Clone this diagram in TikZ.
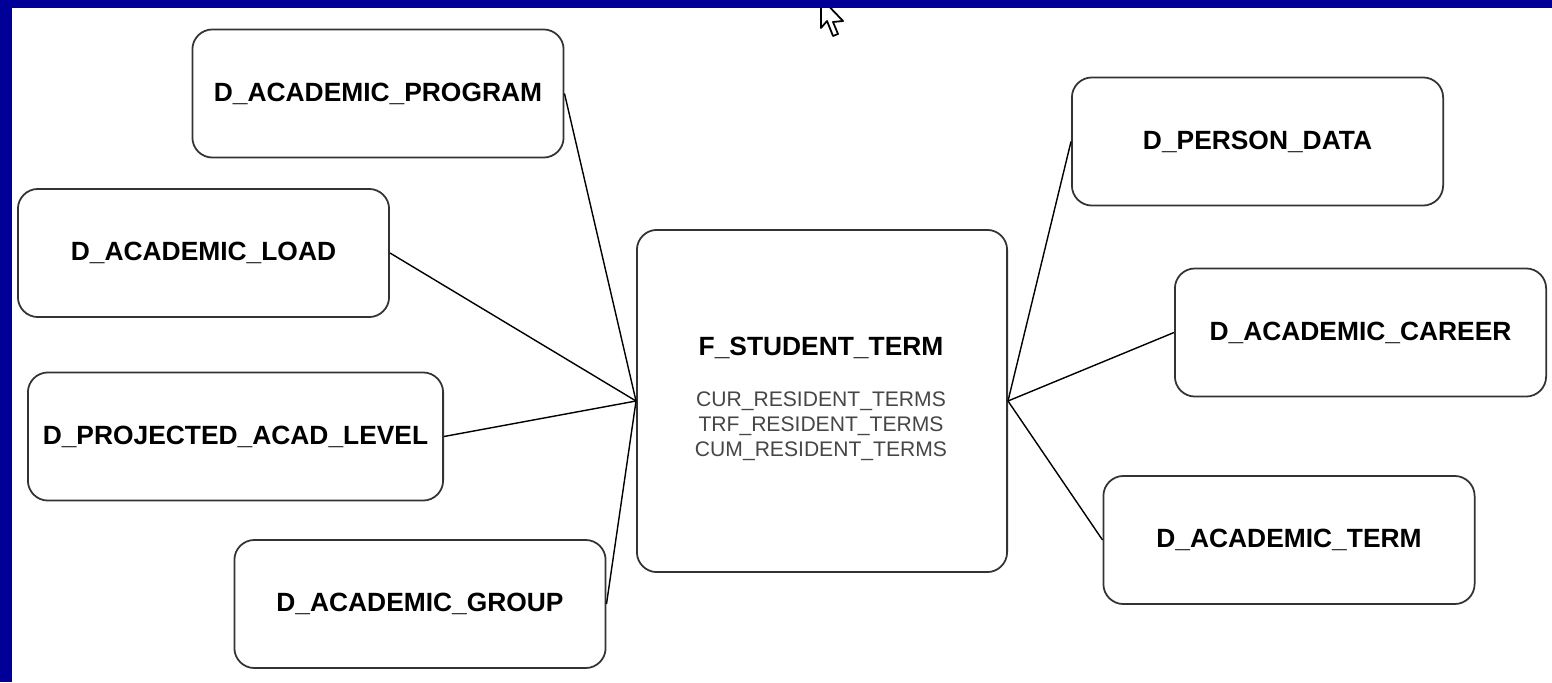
\documentclass[tikz,border=0pt]{standalone}
\usepackage{fontspec}
\setmainfont{Liberation Sans}
\usetikzlibrary{positioning}

\definecolor{frameblue}{RGB}{0,0,153}
\definecolor{subgray}{RGB}{70,70,70}

\tikzset{
  entity/.style={rectangle, rounded corners=0.2cm, draw=black!80, line width=0.5pt,
    minimum width=3.71cm, minimum height=1.28cm, inner sep=0pt,
    font=\fontsize{7.5}{9}\selectfont\bfseries},
  link/.style={draw=black, line width=0.4pt}
}

\begin{document}
\begin{tikzpicture}[x=0.01cm, y=-0.01cm]
  \useasboundingbox (0,0) rectangle (1552,682);
  \fill[white] (0,0) rectangle (1552,682);

  % mouse pointer, partly under the frame
  \draw[black, line width=0.5pt, fill=white, line join=round]
    (821,-2) -- (821,28) -- (827,21) -- (833,36) -- (838,34) -- (833,22) -- (843,21) -- cycle;

  % window frame
  \fill[frameblue] (0,0) rectangle (1552,8.5);
  \fill[frameblue] (0,0) rectangle (12,682);

  \begin{scope}[every node/.style={entity}]
    \node (prog)   at (378,93.5)    {D\_ACADEMIC\_PROGRAM};
    \node (load)   at (203.5,253)   {D\_ACADEMIC\_LOAD};
    \node[minimum width=4.15cm] (proj) at (235.5,436.5) {D\_PROJECTED\_ACAD\_LEVEL};
    \node (group)  at (420,604)     {D\_ACADEMIC\_GROUP};
    \node[minimum width=3.70cm, minimum height=3.42cm] (fact) at (822,401) {};
    \node (person) at (1257.5,141.5) {D\_PERSON\_DATA};
    \node (career) at (1360.5,332.5) {D\_ACADEMIC\_CAREER};
    \node (term)   at (1289,540)    {D\_ACADEMIC\_TERM};
  \end{scope}

  \node[font=\fontsize{7.5}{9}\selectfont\bfseries] (facttitle) at (821,348) {F\_STUDENT\_TERM};
  \node[font=\fontsize{6}{7.1}\selectfont, text=subgray, align=center] (factcols) at (821,426)
    {CUR\_RESIDENT\_TERMS\\TRF\_RESIDENT\_TERMS\\CUM\_RESIDENT\_TERMS};

  \path[link] (prog.east)  -- (fact.west);
  \path[link] (load.east)  -- (fact.west);
  \path[link] (proj.east)  -- (fact.west);
  \path[link] (group.east) -- (fact.west);
  \path[link] (fact.east)  -- (person.west);
  \path[link] (fact.east)  -- (career.west);
  \path[link] (fact.east)  -- (term.west);

\end{tikzpicture}
\end{document}
